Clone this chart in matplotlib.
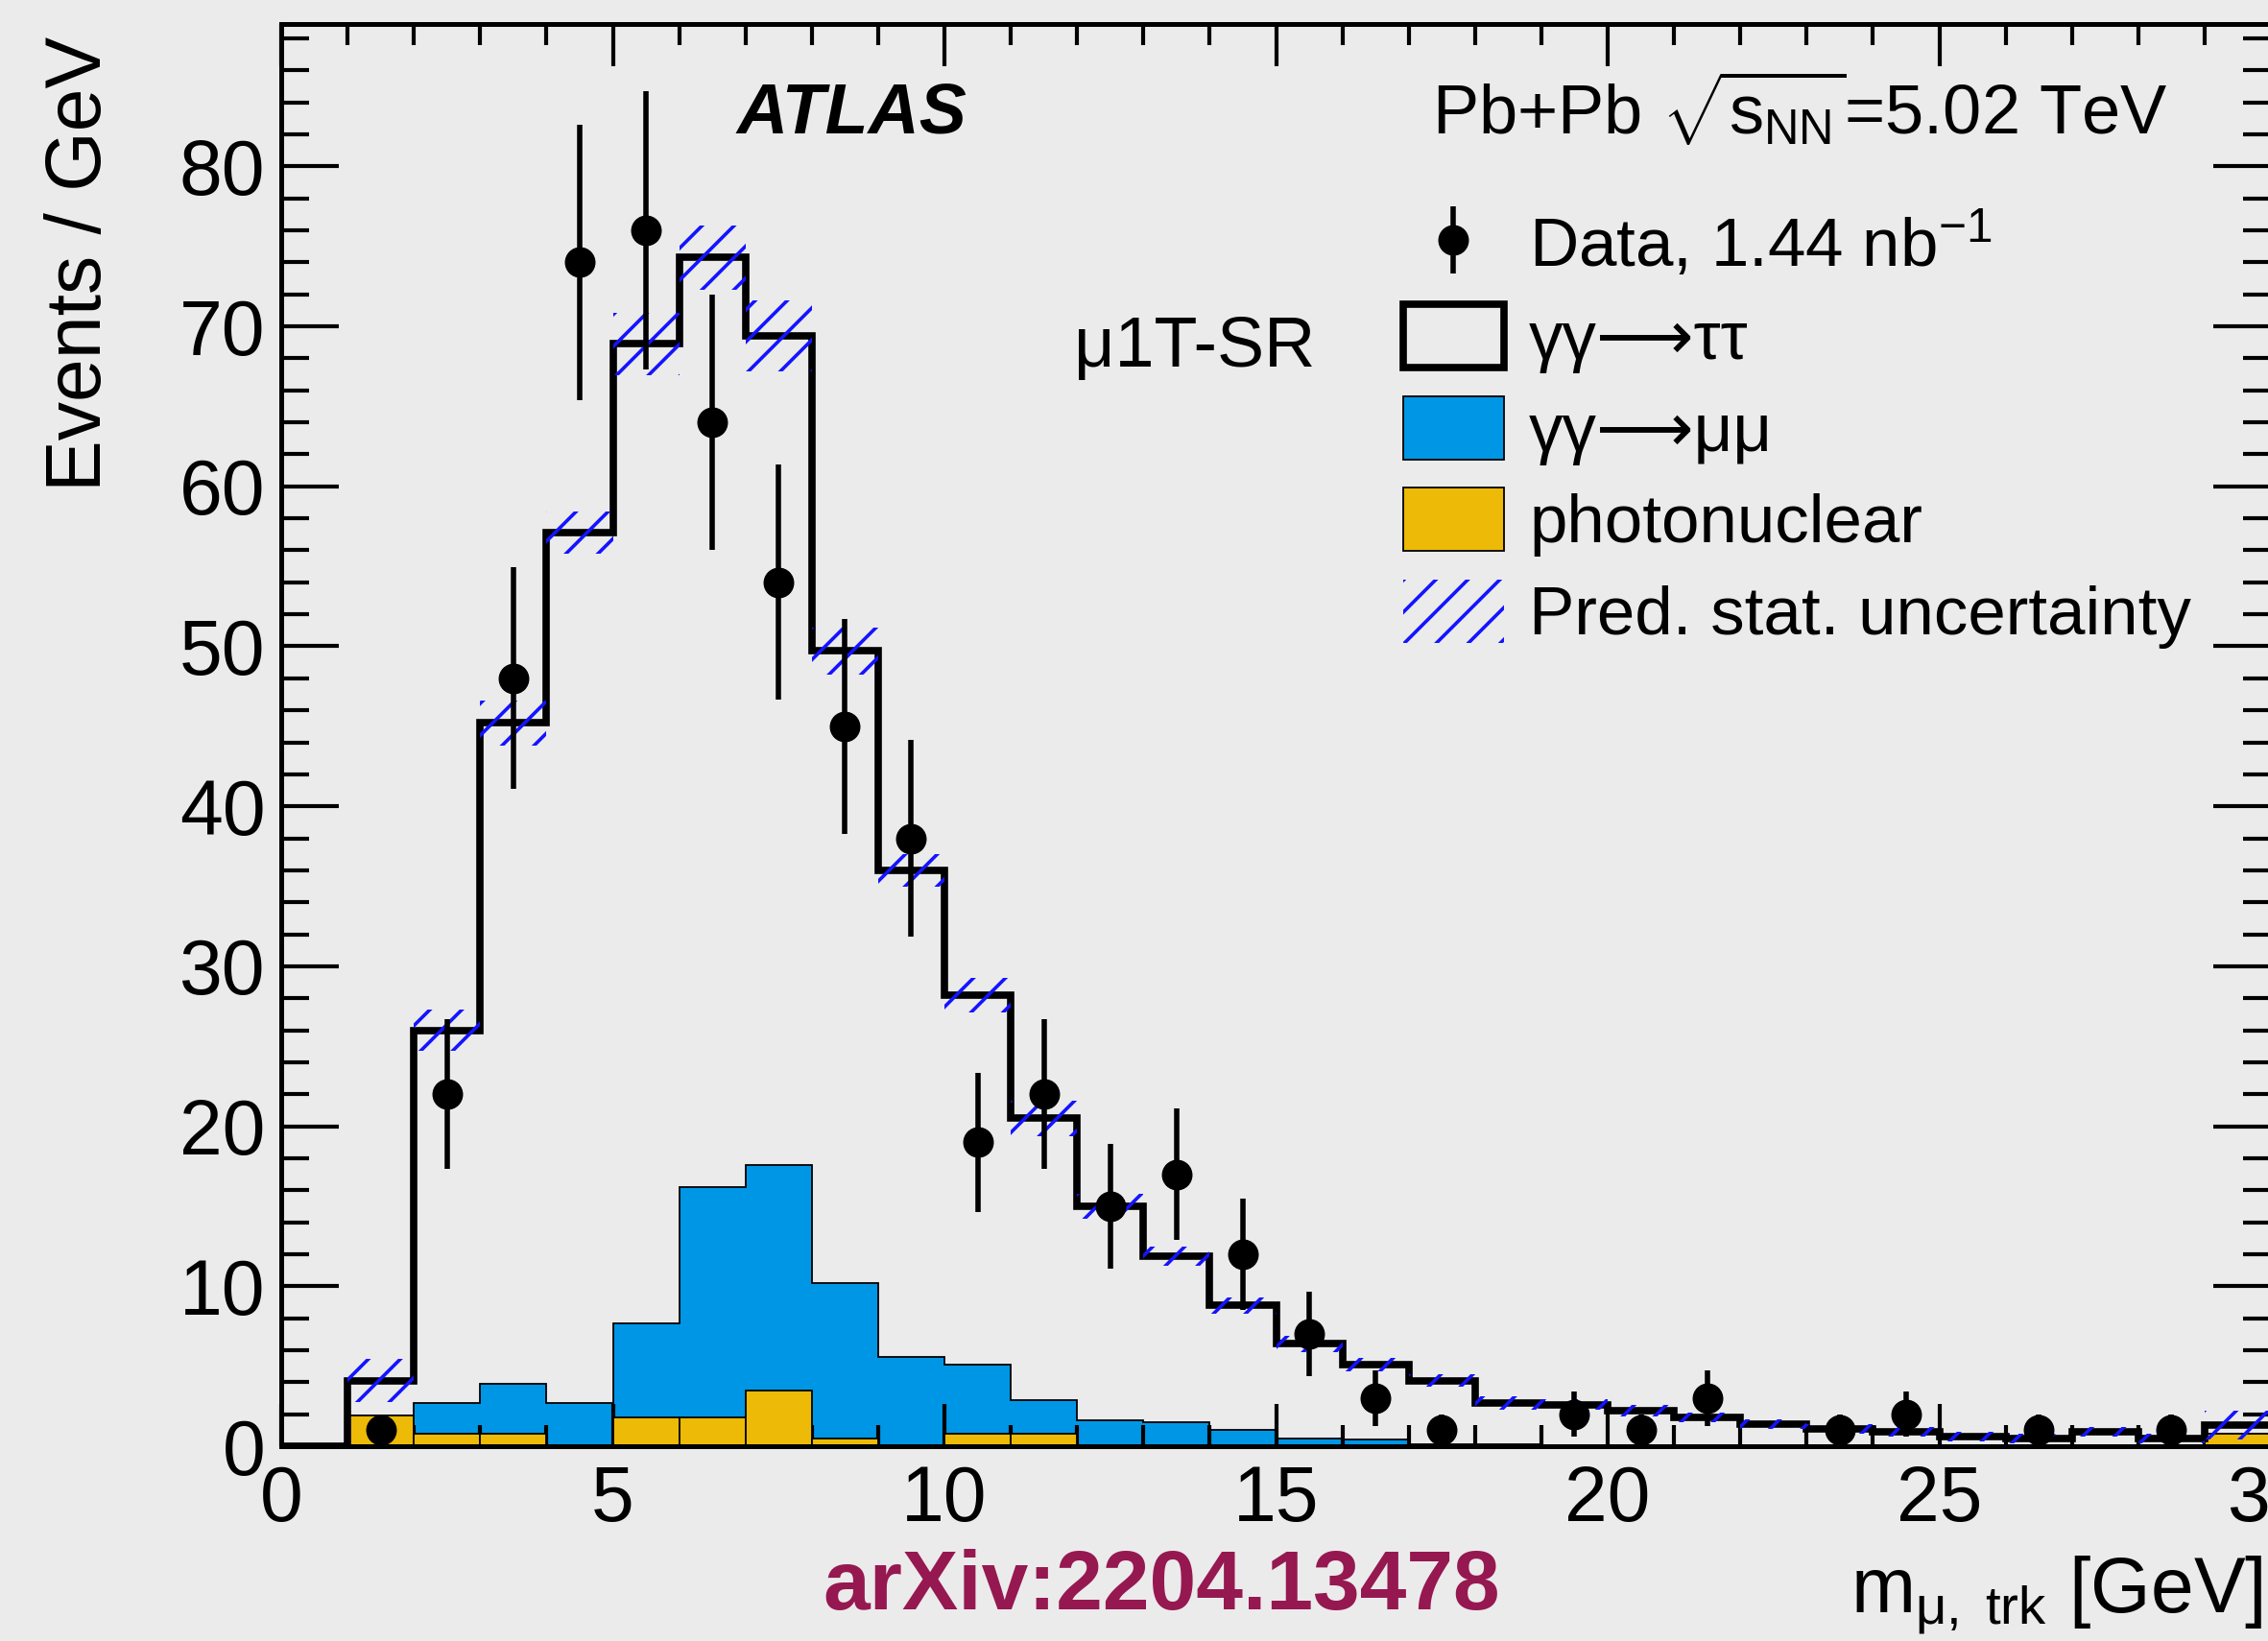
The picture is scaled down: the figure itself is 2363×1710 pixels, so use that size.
import numpy as np
import matplotlib
matplotlib.use("Agg")
import matplotlib.pyplot as plt
from matplotlib.patches import Patch
from matplotlib.ticker import MultipleLocator

# ---- binning: m_{mu,trk} in 1 GeV bins ----
bin_edges = np.arange(0, 31, 1)

# ---- stacked predictions, events / GeV ----
photonuclear = [0, 1.9, 0.8, 0.8, 0, 1.8, 1.8, 3.5, 0.5, 0,
                0.8, 0.8, 0, 0, 0, 0, 0, 0, 0, 0,
                0, 0, 0, 0, 0, 0, 0, 0, 0, 0.8]
gg_mumu = [0, 0, 1.9, 3.1, 2.7, 5.9, 14.4, 14.1, 9.7, 5.6,
           4.3, 2.1, 1.6, 1.5, 1.0, 0.5, 0.4, 0.1, 0.1, 0,
           0, 0, 0, 0, 0, 0, 0, 0, 0, 0]
gg_tautau = [0, 2.2, 23.3, 41.3, 54.4, 61.2, 58.1, 51.8, 39.5, 30.4,
             23.1, 17.6, 13.4, 10.4, 7.8, 5.9, 4.7, 4.0, 2.6, 2.6,
             2.2, 1.8, 1.4, 1.1, 0.9, 0.6, 0.5, 0.9, 0.5, 0.5]
pred_stat_unc = [0, 1.35, 1.3, 1.4, 1.3, 1.95, 2.0, 2.2, 1.45, 1.0,
                 1.1, 1.1, 0.8, 0.6, 0.5, 0.5, 0.4, 0.4, 0.4, 0.35,
                 0.35, 0.3, 0.3, 0.3, 0.3, 0.3, 0.3, 0.3, 0.3, 0.9]

# ---- observed events per bin ----
data_counts = [0, 1, 22, 48, 74, 76, 64, 54, 45, 38,
               19, 22, 15, 17, 12, 7, 3, 1, 0, 2,
               1, 3, 0, 1, 2, 0, 1, 0, 1, 0]

x_ticks = [0, 5, 10, 15, 20, 25, 30]
y_ticks = [0, 10, 20, 30, 40, 50, 60, 70, 80]

# ---- style ----
BG = "#ebebeb"
BLUE = "#0096e6"
ORANGE = "#ecba07"
HATCH = "#1414ff"
W, H = 2363, 1710

plt.rcParams["font.family"] = ["Liberation Sans", "DejaVu Sans"]
plt.rcParams["mathtext.fontset"] = "custom"
plt.rcParams["mathtext.rm"] = "Liberation Sans"
plt.rcParams["mathtext.it"] = "Liberation Sans"
plt.rcParams["mathtext.bf"] = "Liberation Sans:bold"
plt.rcParams["hatch.linewidth"] = 2.6

edges = np.asarray(bin_edges, dtype=float)
centers = 0.5 * (edges[:-1] + edges[1:])
pn = np.asarray(photonuclear)
mm = np.asarray(gg_mumu)
tt = np.asarray(gg_tautau)
unc = np.asarray(pred_stat_unc)
counts = np.asarray(data_counts, dtype=float)

lower = pn + mm
total = lower + tt

fig = plt.figure(figsize=(W / 100, H / 100), dpi=100, facecolor=BG)
ax = fig.add_axes([293 / W, 1 - 1507 / H, 2073 / W, 1482 / H], facecolor=BG)

# gamma gamma -> mu mu stacked on photonuclear
ax.stairs(lower, edges, fill=True, color=BLUE, lw=0, zorder=1)
ax.stairs(lower, edges, color="k", lw=1.3, baseline=None, zorder=1.5)
ax.bar(centers, pn, width=1.0, color=ORANGE, edgecolor="k", lw=1.3, zorder=2)

# total prediction (gamma gamma -> tau tau on top)
ax.stairs(total, edges, color="k", lw=5.5, zorder=3)

# prediction stat. uncertainty band
ax.bar(centers, 2 * unc, bottom=total - unc, width=1.0, fill=False,
       hatch="/", edgecolor=HATCH, lw=0, zorder=4)

# data
sel = counts > 0
h_data = ax.errorbar(centers[sel], counts[sel], yerr=np.sqrt(counts[sel]),
                     fmt="o", color="k", ms=22, elinewidth=4, capsize=0, zorder=5)

ax.set_xlim(0, 30)
ax.set_ylim(0, 88.9)
ax.set_xticks(x_ticks)
ax.set_yticks(y_ticks)
ax.xaxis.set_minor_locator(MultipleLocator(1))
ax.yaxis.set_minor_locator(MultipleLocator(2))
ax.tick_params(axis="both", which="both", direction="in", top=True, right=True,
               labelsize=58, width=3)
ax.tick_params(axis="x", which="major", length=32, pad=14)
ax.tick_params(axis="x", which="minor", length=16)
ax.tick_params(axis="y", which="major", length=43, pad=12)
ax.tick_params(axis="y", which="minor", length=21)
for sp in ax.spines.values():
    sp.set_linewidth(3.6)

ax.set_xlabel(r"$m_{\mu,\ \mathrm{trk}}$ [GeV]", fontsize=58, ha="right", va="baseline")
ax.xaxis.set_label_coords((2358 - 293) / 2073, -(1680 - 1507) / 1482)
ax.set_ylabel("Events / GeV", fontsize=58, ha="right", va="baseline")
ax.yaxis.set_label_coords((105 - 293) / 2073, (1507 - 38) / 1482)

fig.text(768 / W, 1 - 140 / H, "ATLAS", fontsize=53, fontweight="bold",
         fontstyle="italic", va="baseline", ha="left")
fig.text(1492 / W, 1 - 141 / H, r"Pb+Pb $\sqrt{s_{\mathrm{NN}}}$=5.02 TeV",
         fontsize=52, va="baseline", ha="left")
fig.text(1119 / W, 1 - 382 / H, "μ1T-SR", fontsize=53, va="baseline", ha="left")
fig.text(1210 / W, 1 - 1677 / H, "arXiv:2204.13478", fontsize=63, fontweight="bold",
         color="#961850", va="baseline", ha="center")

handles = [
    h_data,
    Patch(facecolor="none", edgecolor="k", lw=5.5),
    Patch(facecolor=BLUE, edgecolor="k", lw=1.3),
    Patch(facecolor=ORANGE, edgecolor="k", lw=1.3),
    Patch(facecolor="none", edgecolor=HATCH, hatch="/", lw=0),
]
labels = [
    r"Data, 1.44 nb$^{-1}$",
    "γγ⟶ττ",
    "γγ⟶μμ",
    "photonuclear",
    "Pred. stat. uncertainty",
]
fig.legend(handles, labels, loc="upper left", bbox_to_anchor=(1462 / W, 1 - 219 / H),
           frameon=False, fontsize=51, handlelength=1.48, handleheight=1.06,
           labelspacing=0.33, handletextpad=0.37, borderpad=0, borderaxespad=0)

fig.savefig("out.png", dpi=100, facecolor=BG)
